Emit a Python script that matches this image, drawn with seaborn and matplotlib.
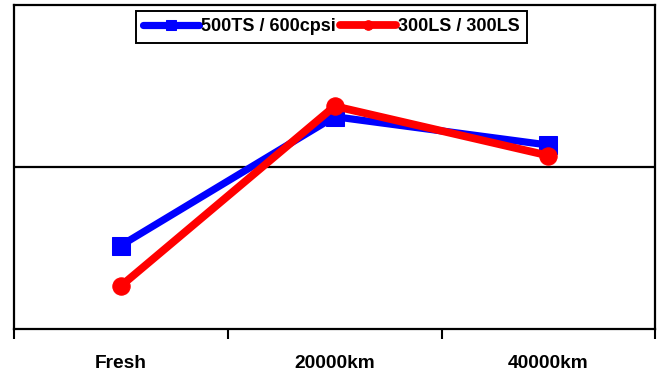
import matplotlib
matplotlib.use("Agg")
import matplotlib.pyplot as plt
import seaborn as sns
import pandas as pd
from matplotlib.ticker import FixedLocator

sns.set_theme(style="white")
plt.rcParams["font.family"] = ["Liberation Sans", "DejaVu Sans"]
plt.rcParams["text.color"] = "black"
plt.rcParams["xtick.color"] = "black"
plt.rcParams["xtick.labelcolor"] = "black"

# Relative change at each ageing step (centre line = 0)
stages = ["Fresh", "20000km", "40000km"]
series_names = ["500TS / 600cpsi", "300LS / 300LS"]
blue_values = [-9.7, 6.2, 2.7]
red_values = [-14.7, 7.5, 1.4]
colors = ["#0000FF", "#FF0000"]
markers = ["s", "o"]

df = pd.DataFrame({
    "stage": list(range(len(stages))) * 2,
    "value": blue_values + red_values,
    "series": [series_names[0]] * 3 + [series_names[1]] * 3,
})

fig = plt.figure(figsize=(6.6, 3.76), dpi=100)
ax = fig.add_axes([0.021, 0.125, 0.972, 0.862])

for name, col, mk, lw in zip(series_names, colors, markers, [5.2, 5.6]):
    sub = df[df["series"] == name]
    sns.lineplot(data=sub, x="stage", y="value", ax=ax, color=col,
                 marker=mk, markersize=12.5, markeredgecolor=col,
                 markerfacecolor=col, linewidth=lw, label=name,
                 solid_capstyle="round", solid_joinstyle="round")

ax.axhline(0, color="black", linewidth=1.6, zorder=0)

ax.set_xlim(-0.5, 2.5)
ax.set_ylim(-20, 20)
ax.set_xlabel("")
ax.set_ylabel("")
ax.set_yticks([])

# Ticks mark the category boundaries; labels sit at category centres
ax.xaxis.set_major_locator(FixedLocator([-0.5, 0.5, 1.5, 2.5]))
ax.xaxis.set_minor_locator(FixedLocator([0, 1, 2]))
ax.set_xticklabels([], minor=False)
ax.set_xticks([0, 1, 2], minor=True)
ax.set_xticklabels(stages, minor=True, fontsize=13.8, fontweight="bold",
                   color="black")
ax.tick_params(axis="x", which="major", direction="out", length=7,
               width=1.5, color="black", bottom=True)
ax.tick_params(axis="x", which="minor", length=0, pad=19, bottom=True)

for sp in ax.spines.values():
    sp.set_visible(True)
    sp.set_color("black")
    sp.set_linewidth(1.6)

leg = ax.legend(loc="upper center", bbox_to_anchor=(0.495, 0.982), ncol=2,
                frameon=True, fancybox=False, framealpha=1,
                edgecolor="black", handlelength=3.1, handletextpad=0.1,
                columnspacing=0.25, borderpad=0.42, borderaxespad=0.0,
                markerscale=0.55, prop={"weight": "bold", "size": 13})
leg.get_frame().set_linewidth(1.4)
for t in leg.get_texts():
    t.set_color("black")

fig.savefig("out.png", dpi=100)
